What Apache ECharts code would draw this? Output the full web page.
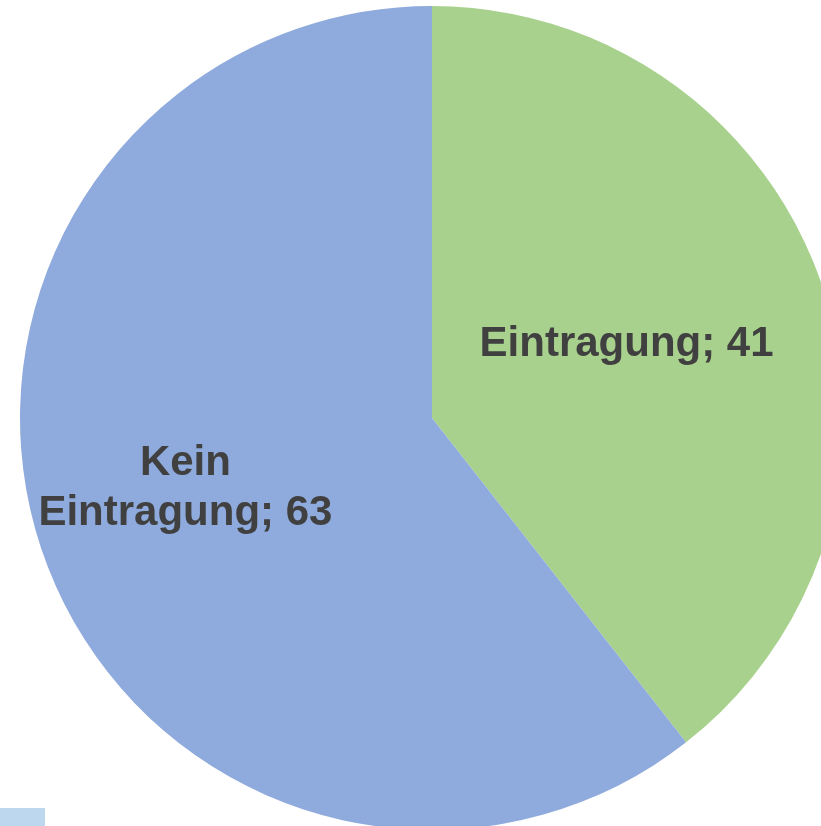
<!DOCTYPE html>
<html>
<head>
<meta charset="utf-8">
<script src="https://cdn.jsdelivr.net/npm/echarts@6/dist/echarts.min.js"></script>
<style>
  html, body { margin: 0; padding: 0; background: #fff; }
  #chart { width: 821px; height: 826px; }
</style>
</head>
<body>
<div id="chart"></div>
<script>
const categories = ['Eintragung', 'Kein\nEintragung']
const values = [41, 63]
const colors = ['#A9D18E', '#8FAADC']

// label nudges so they sit where the original put them
const labelShift = [
  { dx: -3, dy: -5 },
  { dx: -49, dy: 2 }
]

const chart = echarts.init(document.getElementById('chart'))

chart.setOption({
  animation: false,
  graphic: [{
    type: 'rect',
    left: 0,
    bottom: 0,
    shape: { width: 45, height: 18 },
    style: { fill: '#BDD7EE' }
  }],
  series: [{
    type: 'pie',
    center: [432, 418],
    radius: 412,
    startAngle: 90,
    clockwise: true,
    silent: true,
    itemStyle: { borderWidth: 0 },
    label: {
      show: true,
      position: 'inside',
      formatter: p => p.name + '; ' + p.value,
      color: '#404040',
      fontFamily: 'Liberation Sans, Arial, sans-serif',
      fontWeight: 'bold',
      fontSize: 42,
      lineHeight: 50,
      align: 'center'
    },
    labelLine: { show: false },
    labelLayout: params => labelShift[params.dataIndex],
    data: categories.map((name, i) => ({
      name: name,
      value: values[i],
      itemStyle: { color: colors[i] }
    }))
  }]
})
</script>
</body>
</html>
